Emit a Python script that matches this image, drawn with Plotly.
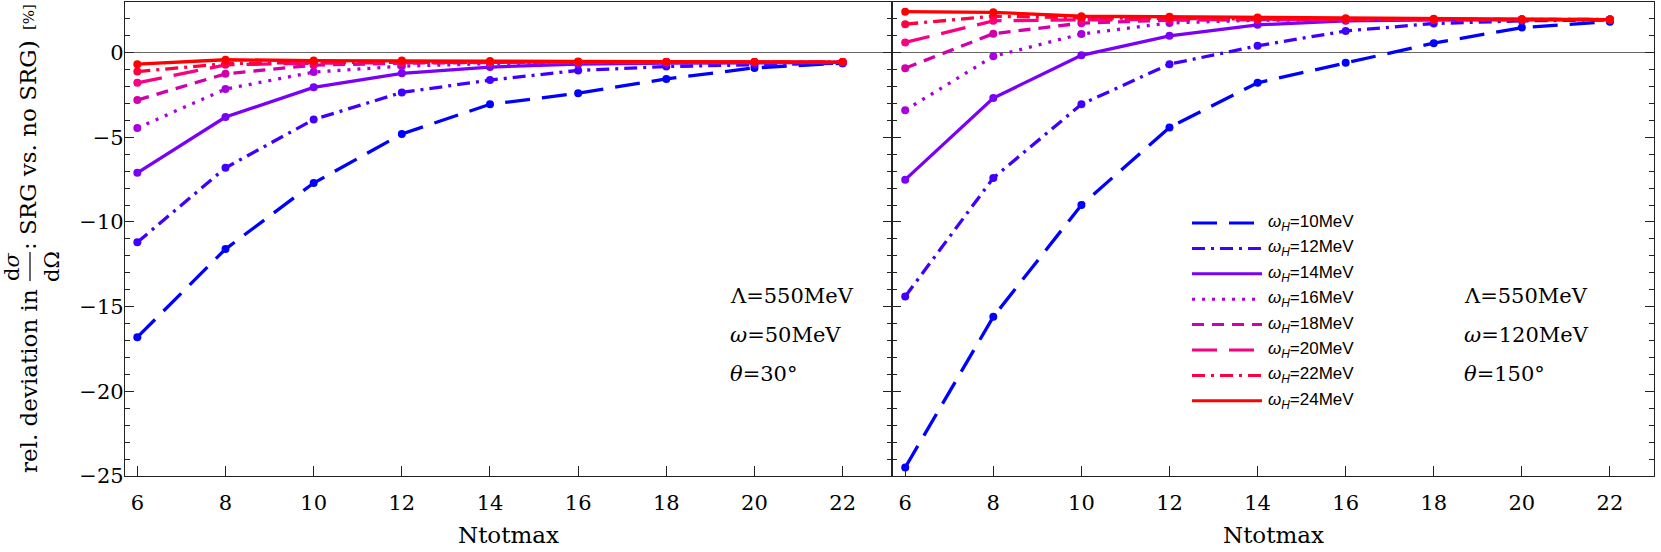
import plotly.graph_objects as go
from plotly.subplots import make_subplots

# Ntotmax values on the x axis
ntotmax = [6, 8, 10, 12, 14, 16, 18, 20, 22]
omega_h = ["10", "12", "14", "16", "18", "20", "22", "24"]

# left panel: Lambda=550MeV, omega=50MeV, theta=30deg
th30_w10 = [-16.8, -11.6, -7.7, -4.8, -3.05, -2.4, -1.55, -0.9, -0.62]
th30_w12 = [-11.2, -6.8, -3.95, -2.35, -1.62, -1.05, -0.82, -0.72, -0.62]
th30_w14 = [-7.1, -3.8, -2.05, -1.22, -0.85, -0.68, -0.62, -0.6, -0.58]
th30_w16 = [-4.45, -2.15, -1.15, -0.8, -0.65, -0.6, -0.58, -0.57, -0.56]
th30_w18 = [-2.8, -1.25, -0.74, -0.62, -0.58, -0.57, -0.56, -0.56, -0.56]
th30_w20 = [-1.78, -0.72, -0.62, -0.58, -0.57, -0.56, -0.56, -0.56, -0.56]
th30_w22 = [-1.12, -0.65, -0.58, -0.56, -0.56, -0.56, -0.56, -0.56, -0.56]
th30_w24 = [-0.68, -0.42, -0.47, -0.47, -0.5, -0.52, -0.54, -0.55, -0.56]

# right panel: Lambda=550MeV, omega=120MeV, theta=150deg
th150_w10 = [-24.5, -15.6, -9.0, -4.42, -1.78, -0.6, 0.56, 1.48, 1.83]
th150_w12 = [-14.4, -7.4, -3.05, -0.68, 0.4, 1.28, 1.72, 1.88, 1.93]
th150_w14 = [-7.5, -2.68, -0.16, 0.99, 1.64, 1.88, 1.93, 1.95, 1.95]
th150_w16 = [-3.4, -0.22, 1.1, 1.75, 1.92, 1.95, 1.95, 1.95, 1.95]
th150_w18 = [-0.92, 1.12, 1.74, 1.92, 1.95, 1.95, 1.95, 1.95, 1.95]
th150_w20 = [0.6, 1.88, 1.94, 1.96, 1.96, 1.96, 1.96, 1.96, 1.96]
th150_w22 = [1.68, 2.15, 2.05, 2.0, 1.98, 1.97, 1.96, 1.96, 1.96]
th150_w24 = [2.42, 2.38, 2.15, 2.12, 2.08, 2.03, 2.0, 1.97, 1.95]

panel_30 = [th30_w10, th30_w12, th30_w14, th30_w16, th30_w18, th30_w20, th30_w22, th30_w24]
panel_150 = [th150_w10, th150_w12, th150_w14, th150_w16, th150_w18, th150_w20, th150_w22, th150_w24]

colors = ["#0000ff", "#4000ff", "#7a00f8", "#aa00dd", "#d000aa", "#fa0082", "#ff0040", "#ff0000"]
dashes = ["25px,12px", "13px,6px,3px,6px", "solid", "3px,7px",
          "12px,8px", "25px,12px", "13px,6px,3px,6px", "solid"]

W, H = 1661, 552
L, R, T, B = 125, 7, 2, 76
SERIF = "DejaVu Serif"


def px(x):
    return (x - L) / (W - L - R)


def py(y):
    return (H - B - y) / (H - T - B)


fig = make_subplots(rows=1, cols=2, shared_yaxes=True, horizontal_spacing=0)

for col, panel in [(1, panel_30), (2, panel_150)]:
    for i, vals in enumerate(panel):
        fig.add_trace(
            go.Scatter(
                x=ntotmax, y=vals, mode="lines+markers",
                name="ωH=" + omega_h[i] + "MeV",
                line=dict(color=colors[i], width=3.3, dash=dashes[i]),
                marker=dict(color=colors[i], size=8),
                showlegend=False,
            ),
            row=1, col=col,
        )

split = px(892)
axis_common = dict(
    showline=True, linecolor="#222", linewidth=1.3, mirror=True,
    ticks="inside", tickcolor="#222", ticklen=10, tickwidth=1.2,
    showgrid=False, zeroline=False, automargin=False,
    tickvals=ntotmax, tickfont=dict(family=SERIF, size=21, color="black"),
    ticklabelstandoff=8,
)
fig.update_xaxes(domain=[0, split], range=[5.72, 23.12], row=1, col=1, **axis_common)
fig.update_xaxes(domain=[split, 1], range=[5.70, 23.0], row=1, col=2, **axis_common)

yaxis_common = dict(
    range=[-25, 2.99], tick0=0, dtick=5, automargin=False,
    showline=True, linecolor="#222", linewidth=1.3, mirror="ticks",
    ticks="inside", tickcolor="#222", ticklen=9, tickwidth=1.2,
    minor=dict(dtick=1, ticks="inside", ticklen=5, tickcolor="#222", tickwidth=1.1),
    showgrid=False, zeroline=True, zerolinecolor="#666", zerolinewidth=1,
    tickfont=dict(family=SERIF, size=21, color="black"),
)
fig.update_yaxes(row=1, col=1, ticklabelstandoff=-4, **yaxis_common)
fig.update_yaxes(row=1, col=2, showticklabels=False, **yaxis_common)

annotations = []
shapes = []

# x titles, centred under each panel
for xc in [(L + 892) / 2, (892 + W - R) / 2]:
    annotations.append(dict(
        text="Ntotmax", xref="paper", yref="paper", x=px(xc), y=py(535),
        xanchor="center", yanchor="middle", showarrow=False,
        font=dict(family=SERIF, size=23, color="black"),
    ))

# panel parameter labels
for x0, lines in [(728, ["Λ=550MeV", "<i>ω</i>=50MeV", "<i>θ</i>=30°"]),
                  (1462, ["Λ=550MeV", "<i>ω</i>=120MeV", "<i>θ</i>=150°"])]:
    for j, txt in enumerate(lines):
        annotations.append(dict(
            text=txt, xref="paper", yref="paper", x=px(x0), y=py(296 + 39 * j),
            xanchor="left", yanchor="middle", showarrow=False,
            font=dict(family=SERIF, size=21, color="black"),
        ))

# legend drawn by hand (long line samples like the original)
for i, lab in enumerate(omega_h):
    yy = py(223 + 25.4 * i)
    shapes.append(dict(
        type="line", xref="paper", yref="paper", x0=px(1192), x1=px(1262), y0=yy, y1=yy,
        line=dict(color=colors[i], width=3, dash=dashes[i]),
    ))
    annotations.append(dict(
        text="<i>ω</i><sub><i>H</i></sub>=" + lab + "MeV", xref="paper", yref="paper",
        x=px(1266), y=yy, xanchor="left", yanchor="middle", showarrow=False,
        font=dict(family="Liberation Sans", size=17, color="black"),
    ))

# y-axis label with the d sigma / d Omega fraction
for txt, x0, y0, size in [("rel. deviation in", 29, 381, 23),
                          ("d<i>σ</i>", 12, 267, 21),
                          ("dΩ", 52, 267, 21),
                          (": SRG vs. no SRG)", 28, 145, 23),
                          ("[%]", 29, 17, 15)]:
    annotations.append(dict(
        text=txt, xref="paper", yref="paper", x=px(x0), y=py(y0),
        xanchor="center", yanchor="middle", textangle=-90, showarrow=False,
        font=dict(family=SERIF, size=size, color="black"),
    ))
shapes.append(dict(
    type="line", xref="paper", yref="paper", x0=px(30), x1=px(30), y0=py(252), y1=py(281),
    line=dict(color="black", width=1.2),
))

fig.update_layout(
    width=W, height=H,
    margin=dict(l=L, r=R, t=T, b=B),
    plot_bgcolor="white", paper_bgcolor="white",
    showlegend=False,
    annotations=annotations, shapes=shapes,
)

# the page body has a default 8px margin; drop it so the figure fills the window
fig.write_html("out.html", config={"displayModeBar": False},
               post_script="document.body.style.margin='0';")
